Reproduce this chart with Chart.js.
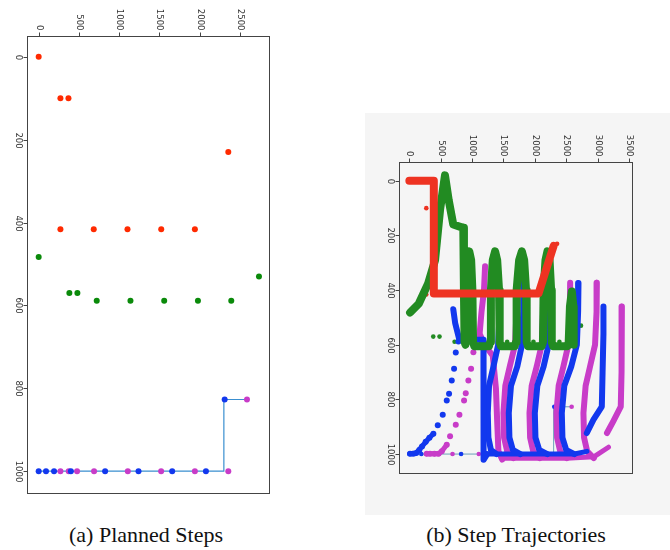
<!DOCTYPE html>
<html>
<head>
<meta charset="utf-8">
<script src="https://cdn.jsdelivr.net/npm/chart.js@4.4.1/dist/chart.umd.min.js"></script>
<style>
  body { margin: 0; background: #fff; width: 670px; height: 550px; position: relative; overflow: hidden; }
  #chartA { position: absolute; left: 0; top: 0; }
  #chartB { position: absolute; left: 365px; top: 113px; background: #f5f5f5; }
  .cap { position: absolute; top: 522px; font-family: "Liberation Serif", serif; font-size: 22px; line-height: 25px; color: #111; text-align: center; width: 300px; }
</style>
</head>
<body>
<canvas id="chartA" width="280" height="500"></canvas>
<canvas id="chartB" width="305" height="402"></canvas>
<div class="cap" style="left: -4px;">(a) Planned Steps</div>
<div class="cap" style="left: 366px;">(b) Step Trajectories</div>
<script>
// ---- tick labels
const xTicksA = [0, 500, 1000, 1500, 2000, 2500];
const yTicksA = [0, 200, 400, 600, 800, 1000];
const xTicksB = [0, 500, 1000, 1500, 2000, 2500, 3000, 3500];
const yTicksB = [0, 200, 400, 600, 800, 1000];

// ---- planned steps (both panels)
const redStepX = [0, 270, 370, 2355, 270, 684, 1103, 1522, 1940];
const redStepY = [0, 100, 100, 230, 416, 416, 416, 416, 416];
const greenStepX = [0, 381, 481, 721, 1140, 1559, 1978, 2392, 2736];
const greenStepY = [483, 570, 570, 589, 589, 589, 589, 589, 530];
const blueStepX = [0, 91, 191, 400, 825, 1240, 1658, 2077, 2310];
const blueStepY = [1000, 1000, 1000, 1000, 1000, 1000, 1000, 1000, 827];
const magStepX = [270, 373, 477, 688, 1107, 1521, 1940, 2355, 2587];
const magStepY = [1000, 1000, 1000, 1000, 1000, 1000, 1000, 1000, 827];
const planX = [0, 2300, 2300, 2590];
const planY = [1000, 1000, 827, 827];

// ---- step trajectories (panel b)
const redTrajX = [0, 390, 390, 2060, 2300];
const redTrajY = [0, 0, 412, 412, 238];
const greenTrajX = [12, 150, 300, 410, 490, 568, 627, 700, 860, 870, 880, 895, 910, 930, 955, 985, 1005, 1015, 1035, 1270, 1290, 1300, 1330, 1367, 1400, 1430, 1440, 1460, 1680, 1700, 1710, 1750, 1793, 1830, 1860, 1870, 1890, 2110, 2130, 2140, 2170, 2201, 2235, 2260, 2270, 2290, 2520, 2540, 2560, 2590, 2615, 2620];
const greenTrajY = [482, 450, 375, 290, 105, -20, 70, 160, 172, 400, 590, 600, 400, 290, 258, 290, 400, 590, 605, 605, 590, 400, 290, 258, 290, 400, 590, 605, 605, 590, 400, 290, 258, 290, 400, 590, 605, 605, 590, 400, 290, 258, 290, 400, 590, 605, 605, 590, 460, 405, 460, 600];

const blueDotX = [11, 60, 110, 160, 202, 260, 320, 383, 453, 532, 596, 633, 676, 713, 740, 782];
const blueDotY = [999, 999, 996, 985, 972, 955, 940, 926, 895, 856, 804, 779, 731, 688, 628, 588];
const blueStartX = [11, 110, 202, 300, 383];
const blueStartY = [999, 996, 972, 945, 926];
const blueMainX = [700, 730, 790, 900, 1181, 1181, 1185, 1240];
const blueMainY = [470, 520, 575, 582, 582, 900, 1021, 1000];
const blue1X = [1446, 1440, 1415, 1340, 1270, 1250, 1260, 1300, 1390];
const blue1Y = [400, 480, 600, 680, 750, 850, 940, 985, 1000];
const blue2X = [1819, 1815, 1795, 1720, 1620, 1585, 1595, 1650, 1770];
const blue2Y = [374, 480, 600, 680, 750, 850, 940, 985, 1000];
const blue3X = [2244, 2240, 2220, 2140, 2040, 2000, 2010, 2070, 2200];
const blue3Y = [387, 480, 600, 680, 750, 850, 940, 985, 1000];
const blue4X = [2696, 2690, 2670, 2580, 2470, 2430, 2440, 2500, 2630];
const blue4Y = [374, 480, 600, 680, 750, 850, 940, 985, 1000];
const blue5X = [3094, 3094, 3080, 3068, 2935, 2829];
const blue5Y = [460, 560, 700, 826, 874, 923];
const blueBottomX = [1181, 1390, 1770, 2200, 2630, 2830];
const blueBottomY = [1000, 1000, 1000, 1000, 1000, 990];

const magDotX = [277, 330, 400, 463, 517, 596, 649, 740, 798, 872, 899, 941, 984, 1021, 1060];
const magDotY = [999, 999, 999, 999, 990, 966, 935, 893, 856, 804, 777, 731, 688, 627, 570];
const magStartX = [277, 463, 517, 596];
const magStartY = [999, 999, 990, 966];
const mag0X = [1207, 1190, 1150, 1120, 1200, 1330, 1380, 1400, 1420, 1480];
const mag0Y = [313, 400, 480, 560, 600, 640, 760, 880, 990, 1020];
const mag1X = [1713, 1708, 1685, 1600, 1530, 1500, 1510, 1560, 1660];
const mag1Y = [385, 480, 600, 680, 750, 850, 940, 990, 1015];
const mag2X = [2137, 2132, 2110, 2030, 1950, 1915, 1925, 1975, 2080];
const mag2Y = [385, 480, 600, 680, 750, 850, 940, 990, 1015];
const mag3X = [2563, 2558, 2535, 2455, 2380, 2345, 2355, 2405, 2510];
const mag3Y = [373, 480, 600, 680, 750, 850, 940, 990, 1015];
const mag4X = [2989, 2984, 2960, 2880, 2810, 2775, 2785, 2835, 2940];
const mag4Y = [373, 480, 600, 680, 750, 850, 940, 990, 1015];
const mag5X = [3388, 3385, 3380, 3370, 3250, 3150];
const mag5Y = [460, 560, 700, 826, 880, 923];
const magBottomX = [1480, 1660, 2080, 2510, 2940, 3174];
const magBottomY = [1015, 1015, 1015, 1015, 1010, 975];

const RED = '#ff2a00', GREEN = '#0a8a0a', BLUE = '#1238ee', MAG = '#c83cc8';
const RED_B = '#ee3322', GREEN_B = '#228b22';

function pts(xs, ys) {
    return xs.map((x, i) => ({ x: x, y: ys[i] }));
}

function dots(xs, ys, color, r, order) {
    return { data: pts(xs, ys), backgroundColor: color, borderWidth: 0, pointRadius: r, order: order };
}

function path(xs, ys, color, w, order) {
    return {
        data: pts(xs, ys), showLine: true, borderColor: color, borderWidth: w,
        borderCapStyle: 'round', borderJoinStyle: 'round', pointRadius: 0, order: order
    };
}

// box, ticks and rotated tick labels
const frame = {
    id: 'frame',
    afterDatasetsDraw(chart, args, opts) {
        const ctx = chart.ctx, a = chart.chartArea;
        const x = chart.scales.x, y = chart.scales.y;
        ctx.save();
        ctx.strokeStyle = '#444';
        ctx.lineWidth = 1;
        ctx.strokeRect(a.left + 0.5, a.top + 0.5, a.right - a.left - 1, a.bottom - a.top - 1);
        ctx.font = opts.font;
        ctx.fillStyle = '#333';
        opts.xTicks.forEach(v => {
            const px = Math.round(x.getPixelForValue(v)) + 0.5;
            ctx.beginPath();
            ctx.moveTo(px, a.top);
            ctx.lineTo(px, a.top - 3.5);
            ctx.stroke();
            ctx.save();
            ctx.translate(px, a.top - 5.5);
            ctx.rotate(Math.PI / 2);
            ctx.textAlign = 'right';
            ctx.textBaseline = 'middle';
            ctx.fillText(String(v), 0, 0);
            ctx.restore();
        });
        opts.yTicks.forEach(v => {
            const py = Math.round(y.getPixelForValue(v)) + 0.5;
            ctx.beginPath();
            ctx.moveTo(a.left, py);
            ctx.lineTo(a.left - 3.5, py);
            ctx.stroke();
            ctx.save();
            ctx.translate(a.left - 4.5, py);
            ctx.rotate(Math.PI / 2);
            ctx.textAlign = 'center';
            ctx.textBaseline = 'top';
            ctx.fillText(String(v), 0, 0);
            ctx.restore();
        });
        ctx.restore();
    }
};

function baseOptions(xmin, xmax, ymin, ymax, pad, xt, yt) {
    return {
        responsive: false,
        animation: false,
        devicePixelRatio: 1,
        layout: { padding: pad },
        plugins: {
            legend: { display: false },
            tooltip: { enabled: false },
            frame: { xTicks: xt, yTicks: yt, font: '8.5px "DejaVu Sans"' }
        },
        scales: {
            x: { type: 'linear', position: 'top', min: xmin, max: xmax, display: false },
            y: { type: 'linear', reverse: true, min: ymin, max: ymax, display: false }
        }
    };
}

new Chart(document.getElementById('chartA'), {
    type: 'scatter',
    data: {
        datasets: [
            dots(blueStepX, blueStepY, BLUE, 3, 1),
            dots(magStepX, magStepY, MAG, 3, 2),
            dots(greenStepX, greenStepY, GREEN, 3, 3),
            dots(redStepX, redStepY, RED, 3, 4),
            path(planX, planY, '#3a8fd0', 1.2, 5)
        ]
    },
    options: baseOptions(-145, 2873, -50, 1055, { left: 27, top: 36, right: 10, bottom: 6 }, xTicksA, yTicksA),
    plugins: [frame]
});

new Chart(document.getElementById('chartB'), {
    type: 'scatter',
    data: {
        datasets: [
            path(redTrajX, redTrajY, RED_B, 8, 1),
            path(greenTrajX, greenTrajY, GREEN_B, 8, 2),
            path(blueStartX, blueStartY, BLUE, 5, 3),
            path(blueMainX, blueMainY, BLUE, 6, 3),
            path(blue1X, blue1Y, BLUE, 6, 3),
            path(blue2X, blue2Y, BLUE, 6, 3),
            path(blue3X, blue3Y, BLUE, 6, 3),
            path(blue4X, blue4Y, BLUE, 6, 3),
            path(blue5X, blue5Y, BLUE, 6, 3),
            path(blueBottomX, blueBottomY, BLUE, 5, 3),
            dots(blueDotX, blueDotY, BLUE, 3, 3),
            path(magStartX, magStartY, MAG, 5, 4),
            path(mag0X, mag0Y, MAG, 6, 4),
            path(mag1X, mag1Y, MAG, 6, 4),
            path(mag2X, mag2Y, MAG, 6, 4),
            path(mag3X, mag3Y, MAG, 6, 4),
            path(mag4X, mag4Y, MAG, 6, 4),
            path(mag5X, mag5Y, MAG, 6, 4),
            path(magBottomX, magBottomY, MAG, 5, 4),
            dots(magDotX, magDotY, MAG, 3, 4),
            dots(redStepX, redStepY, RED_B, 2.3, 5),
            dots(greenStepX, greenStepY, GREEN_B, 2.3, 5),
            dots(blueStepX, blueStepY, BLUE, 2.3, 5),
            dots(magStepX, magStepY, MAG, 2.3, 5),
            path(planX, planY, '#6aa0b8', 1, 6)
        ]
    },
    options: baseOptions(-165, 3565, -69, 1073, { left: 34, top: 49, right: 37, bottom: 41 }, xTicksB, yTicksB),
    plugins: [frame]
});
</script>
</body>
</html>
